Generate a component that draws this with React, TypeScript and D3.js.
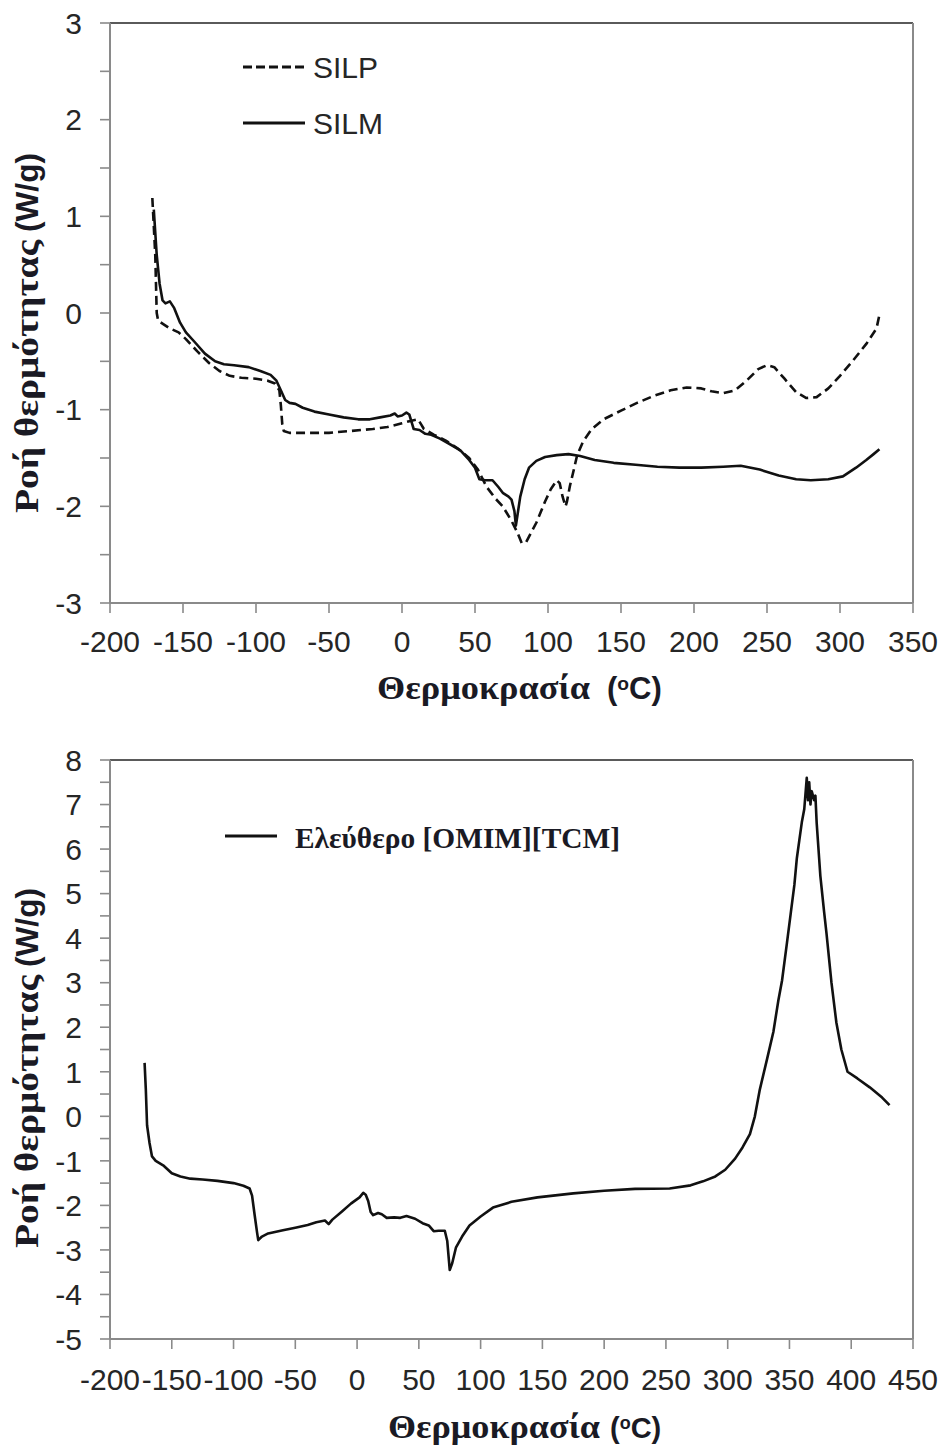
import React from "react";
import * as d3 from "d3";

// ---------- data ----------
const silpData: [number, number][] = [
  [-171, 1.19], [-169, 0.6], [-168, 0.0], [-167, -0.08], [-163, -0.12], [-159, -0.16], [-153, -0.2],
  [-148, -0.27], [-140, -0.4], [-132, -0.52], [-125, -0.6], [-118, -0.65], [-110, -0.67], [-100, -0.68],
  [-92, -0.7], [-87, -0.73], [-84, -0.8], [-83, -0.95], [-82, -1.15], [-81, -1.22], [-77, -1.24],
  [-65, -1.24], [-50, -1.24], [-35, -1.22], [-20, -1.2], [-10, -1.18], [0, -1.14], [5, -1.12], [8, -1.11],
  [11, -1.1], [13, -1.15], [15, -1.2], [22, -1.26], [30, -1.32], [38, -1.4], [46, -1.5], [52, -1.62],
  [58, -1.8], [64, -1.92], [69, -2.0], [75, -2.15], [79, -2.27], [82, -2.38], [85, -2.37], [92, -2.17],
  [98, -1.95], [102, -1.82], [106, -1.73], [108, -1.76], [110, -1.9], [112, -2.0], [113, -1.95],
  [115, -1.79], [118, -1.6], [120, -1.47], [124, -1.33], [130, -1.2], [138, -1.1], [150, -1.01],
  [161, -0.93], [172, -0.86], [184, -0.8], [195, -0.77], [205, -0.78], [212, -0.81], [220, -0.83],
  [228, -0.8], [236, -0.7], [244, -0.58], [250, -0.54], [255, -0.56], [262, -0.68], [270, -0.82],
  [277, -0.88], [284, -0.87], [292, -0.78], [300, -0.65], [309, -0.49], [318, -0.32], [325, -0.16],
  [327, -0.02],
];

const silmData: [number, number][] = [
  [-170, 1.07], [-169.5, 0.95], [-168, 0.6], [-166, 0.3], [-164, 0.13], [-162, 0.1], [-159, 0.12],
  [-156, 0.05], [-152, -0.1], [-148, -0.2], [-142, -0.3], [-135, -0.42], [-128, -0.5], [-122, -0.53],
  [-115, -0.54], [-105, -0.56], [-97, -0.6], [-90, -0.64], [-86, -0.7], [-83, -0.8], [-80, -0.9],
  [-77, -0.93], [-73, -0.94], [-68, -0.98], [-60, -1.02], [-50, -1.05], [-40, -1.08], [-30, -1.1],
  [-22, -1.1], [-15, -1.08], [-8, -1.06], [-5, -1.04], [-3, -1.07], [0, -1.06], [3, -1.03], [5, -1.05],
  [7, -1.15], [8, -1.2], [12, -1.21], [16, -1.25], [20, -1.26], [26, -1.3], [32, -1.35], [40, -1.42],
  [46, -1.52], [50, -1.6], [53, -1.72], [57, -1.73], [62, -1.73], [66, -1.8], [69, -1.86], [73, -1.9],
  [75, -1.93], [77, -2.05], [78, -2.2], [79, -2.1], [81, -1.9], [84, -1.72], [87, -1.6], [92, -1.53],
  [98, -1.49], [106, -1.47], [114, -1.46], [122, -1.48], [132, -1.52], [145, -1.55], [160, -1.57],
  [175, -1.59], [190, -1.6], [205, -1.6], [220, -1.59], [232, -1.58], [245, -1.62], [258, -1.68],
  [270, -1.72], [280, -1.73], [292, -1.72], [302, -1.69], [311, -1.6], [318, -1.52], [323, -1.46],
  [327, -1.41],
];

const freeData: [number, number][] = [
  [-172, 1.2], [-171, 0.6], [-170, -0.2], [-168, -0.6], [-166, -0.9], [-163, -1.0], [-157, -1.1],
  [-150, -1.28], [-143, -1.35], [-135, -1.4], [-125, -1.42], [-113, -1.45], [-100, -1.5], [-92, -1.56],
  [-87, -1.62], [-85, -1.78], [-83, -2.2], [-81, -2.6], [-80, -2.78], [-77, -2.7], [-72, -2.63],
  [-60, -2.56], [-50, -2.5], [-40, -2.44], [-33, -2.38], [-26, -2.34], [-23, -2.42], [-20, -2.32],
  [-12, -2.13], [-5, -1.96], [2, -1.82], [5, -1.72], [7, -1.76], [9, -1.9], [11, -2.15], [13, -2.22],
  [17, -2.17], [20, -2.2], [24, -2.28], [30, -2.27], [35, -2.28], [40, -2.24], [47, -2.3], [53, -2.4],
  [58, -2.45], [62, -2.58], [66, -2.57], [71, -2.57], [73, -2.8], [75, -3.45], [77, -3.3], [80, -2.95],
  [85, -2.7], [91, -2.45], [100, -2.25], [110, -2.05], [125, -1.92], [146, -1.82], [175, -1.73],
  [200, -1.67], [225, -1.63], [253, -1.62], [270, -1.55], [280, -1.46], [290, -1.35], [298, -1.2],
  [306, -0.95], [312, -0.7], [318, -0.4], [322, 0.0], [326, 0.6], [332, 1.3], [337, 1.9], [341, 2.6],
  [344, 3.05], [348, 3.9], [351, 4.55], [354, 5.2], [356, 5.8], [358, 6.2], [360, 6.6], [362, 6.9],
  [364, 7.6], [365, 7.1], [366, 7.5], [367, 7.0], [368, 7.3], [370, 7.1], [371, 7.2], [372, 6.6],
  [374, 5.8], [375, 5.4], [378, 4.6], [380, 4.1], [384, 3.0], [388, 2.1], [392, 1.5], [397, 1.0],
  [405, 0.85], [415, 0.65], [425, 0.42], [431, 0.25],
];

const topXTicks = [-200, -150, -100, -50, 0, 50, 100, 150, 200, 250, 300, 350];
const topYTicks = [-3, -2.5, -2, -1.5, -1, -0.5, 0, 0.5, 1, 1.5, 2, 2.5, 3];
const botXTicks = [-200, -150, -100, -50, 0, 50, 100, 150, 200, 250, 300, 350, 400, 450];
const botYTicks = d3.range(-5, 8.001, 0.5);

const legendTop = ["SILP", "SILM"];
const legendBottom = "Ελεύθερο [OMIM][TCM]";
const yTitleGreek = "Ροή θερμότητας";
const yTitleUnit = "(W/g)";
const xTitleGreek = "Θερμοκρασία";

const SANS = "'Liberation Sans', Arial, sans-serif";
const SERIF = "'Liberation Serif', 'Times New Roman', serif";
const AXIS = "#8a8a8a";
const INK = "#111";
const TXT = "#262626";
const TITLE = "#1a1a24";

type Series = { data: [number, number][]; dash?: string };

function Chart(props: {
  top: number; bottom: number; left: number; right: number;
  xDomain: [number, number]; yDomain: [number, number];
  xTicks: number[]; yTicks: number[];
  series: Series[];
  yTitleCenter: number;
  xTitleX: number; xTitleY: number; xTitleW: number; xUnitX: number; xUnitSize: number;
  xLabelY: number;
  children?: React.ReactNode;
}) {
  const { top, bottom, left, right } = props;
  const x = d3.scaleLinear().domain(props.xDomain).range([left, right]);
  const y = d3.scaleLinear().domain(props.yDomain).range([bottom, top]);
  const line = d3.line<[number, number]>().x((d) => x(d[0])).y((d) => y(d[1])).curve(d3.curveLinear);
  const c = props.yTitleCenter;
  const us = props.xUnitSize;
  return (
    <g>
      {/* frame */}
      <line x1={left} x2={right} y1={top} y2={top} stroke="#5a5a5a" strokeWidth={2} />
      <line x1={right} x2={right} y1={top} y2={bottom} stroke={AXIS} strokeWidth={2} />
      <line x1={left} x2={left} y1={top} y2={bottom} stroke={AXIS} strokeWidth={2} />
      <line x1={left} x2={right} y1={bottom} y2={bottom} stroke={AXIS} strokeWidth={2} />
      {props.yTicks.map((t) => (
        <g key={"y" + t}>
          <line x1={left - 10} x2={left} y1={y(t)} y2={y(t)} stroke={AXIS} strokeWidth={1.6} />
          {Number.isInteger(t) && (
            <text x={82} y={y(t)} dy="0.36em" textAnchor="end" fontFamily={SANS} fontSize={30} fill={TXT}>
              {t}
            </text>
          )}
        </g>
      ))}
      {props.xTicks.map((t) => (
        <g key={"x" + t}>
          <line x1={x(t)} x2={x(t)} y1={bottom} y2={bottom + 10} stroke={AXIS} strokeWidth={1.6} />
          <text x={x(t)} y={props.xLabelY} textAnchor="middle" fontFamily={SANS} fontSize={30} fill={TXT}>
            {t}
          </text>
        </g>
      ))}
      {props.series.map((s, i) => (
        <path key={i} d={line(s.data) || ""} fill="none" stroke={INK} strokeWidth={2.6}
          strokeDasharray={s.dash} strokeLinejoin="round" />
      ))}
      <g transform="translate(38,0) rotate(-90)" fill={TITLE} fontWeight="bold">
        <text x={-(c + 180)} y={0} fontFamily={SERIF} fontSize={33} textLength={273} lengthAdjust="spacingAndGlyphs">
          {yTitleGreek}
        </text>
        <text x={-(c - 101)} y={0} fontFamily={SANS} fontSize={31} textLength={79} lengthAdjust="spacingAndGlyphs">
          {yTitleUnit}
        </text>
      </g>
      <text x={props.xTitleX} y={props.xTitleY} fill={TITLE} fontWeight="bold" fontFamily={SERIF} fontSize={33}
        textLength={props.xTitleW} lengthAdjust="spacingAndGlyphs">
        {xTitleGreek}
      </text>
      <text x={props.xUnitX} y={props.xTitleY} fill={TITLE} fontWeight="bold" fontFamily={SANS} fontSize={us}>
        <tspan>(</tspan>
        <tspan fontSize={us * 0.62} dy={-us * 0.3}>o</tspan>
        <tspan dy={us * 0.3}>C)</tspan>
      </text>
      {props.children}
    </g>
  );
}

export default function App() {
  return (
    <svg width={941} height={1447} style={{ position: "absolute", left: 0, top: 0, background: "#fff" }}>
      <rect width={941} height={1447} fill="#fff" />
      <Chart top={23} bottom={603} left={110} right={913}
        xDomain={[-200, 350]} yDomain={[-3, 3]}
        xTicks={topXTicks} yTicks={topYTicks}
        series={[{ data: silpData, dash: "9,5" }, { data: silmData }]}
        yTitleCenter={333} xTitleX={377} xTitleY={699} xTitleW={213} xUnitX={607} xUnitSize={31} xLabelY={652}>
        <line x1={243} x2={305} y1={67} y2={67} stroke={INK} strokeWidth={3} strokeDasharray="9,4" />
        <text x={313} y={67} dy="0.36em" fontFamily={SANS} fontSize={30} fill={TXT}>{legendTop[0]}</text>
        <line x1={243} x2={305} y1={123} y2={123} stroke={INK} strokeWidth={3} />
        <text x={313} y={123} dy="0.36em" fontFamily={SANS} fontSize={30} fill={TXT}>{legendTop[1]}</text>
      </Chart>
      <Chart top={760} bottom={1339} left={110} right={913}
        xDomain={[-200, 450]} yDomain={[-5, 8]}
        xTicks={botXTicks} yTicks={botYTicks}
        series={[{ data: freeData }]}
        yTitleCenter={1068} xTitleX={388} xTitleY={1438} xTitleW={212} xUnitX={610} xUnitSize={29} xLabelY={1390}>
        <line x1={225} x2={277} y1={836} y2={836} stroke={INK} strokeWidth={3.2} />
        <text x={295} y={848} fontFamily={SERIF} fontWeight="bold" fontSize={30} fill={TITLE}
          textLength={325} lengthAdjust="spacingAndGlyphs">{legendBottom}</text>
      </Chart>
    </svg>
  );
}
